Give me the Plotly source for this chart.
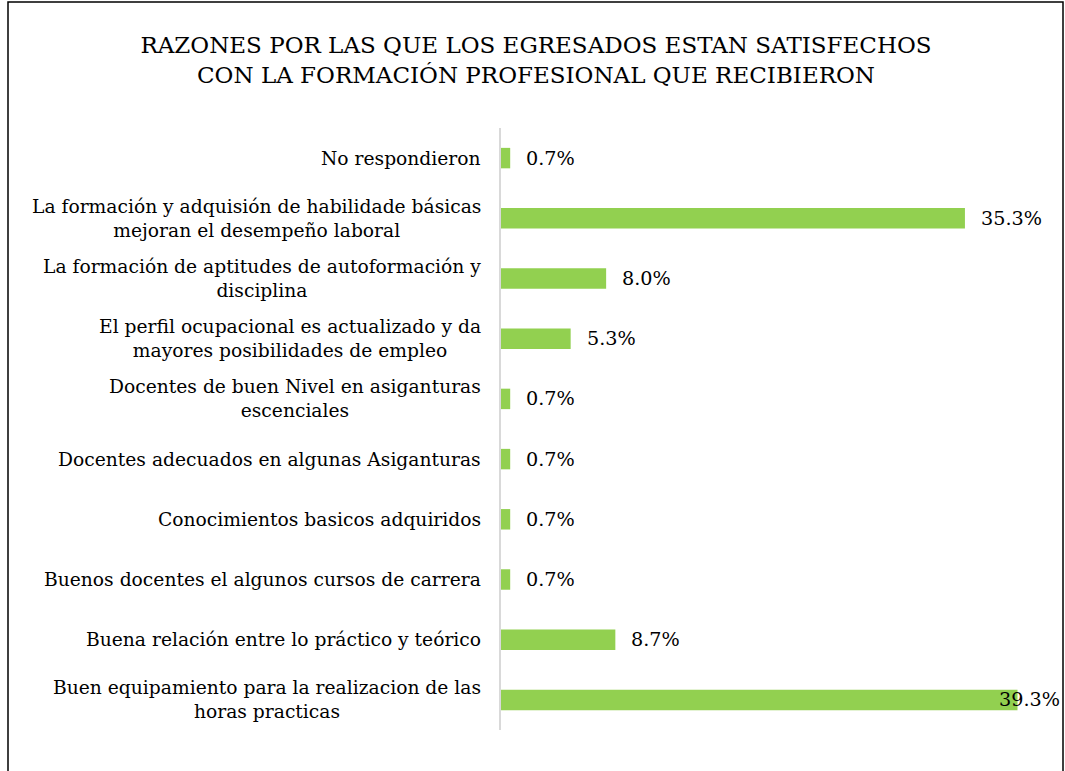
import plotly.graph_objects as go

categories = [
    "No respondieron",
    "La formación y adquisión de habilidade básicas<br>mejoran el desempeño laboral",
    "La formación de aptitudes de autoformación y<br>disciplina",
    "El perfil ocupacional es actualizado y da<br>mayores posibilidades de empleo",
    "Docentes de buen Nivel en asiganturas<br>escenciales",
    "Docentes adecuados en algunas Asiganturas",
    "Conocimientos basicos adquiridos",
    "Buenos docentes el algunos cursos de carrera",
    "Buena relación entre lo práctico y teórico",
    "Buen equipamiento para la realizacion de las<br>horas practicas",
]
values = [0.7, 35.3, 8.0, 5.3, 0.7, 0.7, 0.7, 0.7, 8.7, 39.3]
labels = ["0.7%", "35.3%", "8.0%", "5.3%", "0.7%", "0.7%", "0.7%", "0.7%", "8.7%", "39.3%"]

W, H = 1065, 771
ml, mr, mt, mb = 501, 12, 128, 41
FONT = "DejaVu Serif"

fig = go.Figure(go.Bar(
    y=categories, x=values, orientation="h",
    marker=dict(color="#92D050", line=dict(width=0)),
    width=0.34,
    hoverinfo="skip",
))

annotations = []
for c, v, t in zip(categories, values, labels):
    annotations.append(dict(
        x=0, xref="paper", y=c, yref="y", text=c, showarrow=False,
        xanchor="right", yanchor="middle", align="center", xshift=-18,
        font=dict(family=FONT, size=18.7, color="#000000"),
    ))
    big = v > 38
    annotations.append(dict(
        x=v, xref="x", y=c, yref="y", text=t, showarrow=False,
        xanchor="left", yanchor="middle", xshift=(-21 if big else 14),
        font=dict(family=FONT, size=19.2, color="#000000"),
    ))

pw = W - ml - mr
ph = H - mt - mb
fig.update_layout(
    width=W, height=H,
    margin=dict(l=ml, r=mr, t=mt, b=mb, pad=0),
    paper_bgcolor="white", plot_bgcolor="white",
    showlegend=False,
    title=dict(
        text="RAZONES POR LAS QUE LOS EGRESADOS ESTAN SATISFECHOS<br>CON LA FORMACIÓN PROFESIONAL QUE RECIBIERON",
        xref="container", x=536 / W, xanchor="center", y=1 - 53 / H, yanchor="middle",
        font=dict(family=FONT, size=23, color="#000000"),
    ),
    xaxis=dict(range=[0, 42], showgrid=False, zeroline=False, showticklabels=False,
               showline=False, ticks="", fixedrange=True),
    yaxis=dict(autorange="reversed", showgrid=False, zeroline=False, showticklabels=False,
               showline=True, linecolor="#D9D9D9", linewidth=1.5, ticks="", fixedrange=True),
    annotations=annotations,
    shapes=[dict(
        type="rect", xref="paper", yref="paper",
        x0=(8 - ml) / pw, x1=(1063 - ml) / pw,
        y0=-(H + 10 - mt - ph) / ph, y1=1 + (mt - 2) / ph,
        line=dict(color="#000000", width=1.5), fillcolor="rgba(0,0,0,0)", layer="above",
    )],
)

fig.write_html("out.html", config={"displayModeBar": False},
               post_script="document.body.style.margin='0';document.body.style.overflow='hidden';")
